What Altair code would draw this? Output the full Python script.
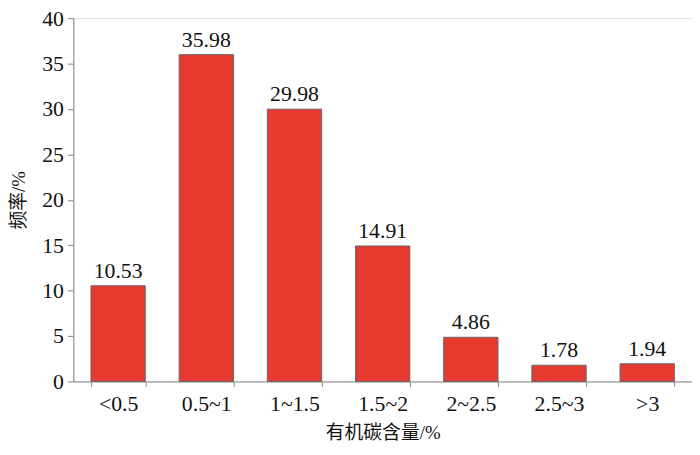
import altair as alt
import pandas as pd

categories = ["<0.5", "0.5~1", "1~1.5", "1.5~2", "2~2.5", "2.5~3", ">3"]
values = [10.53, 35.98, 29.98, 14.91, 4.86, 1.78, 1.94]
value_labels = ["10.53", "35.98", "29.98", "14.91", "4.86", "1.78", "1.94"]
y_ticks = [0, 5, 10, 15, 20, 25, 30, 35, 40]

df = pd.DataFrame({"cat": categories, "val": values, "lab": value_labels})

SERIF = "'Liberation Serif', 'Times New Roman', 'Noto Sans CJK SC', serif"
W, H = 625, 367

x_enc = alt.X(
    "cat:N",
    sort=categories,
    scale=alt.Scale(paddingInner=0.384, paddingOuter=0.2),
    axis=alt.Axis(
        title="有机碳含量/%",
        labelAngle=0,
        labelFont=SERIF,
        labelFontSize=22,
        labelColor="#111",
        labelPadding=7,
        tickBand="extent",
        tickSize=5,
        tickColor="#888",
        domainColor="#888",
        titleFont=SERIF,
        titleFontSize=19,
        titleFontWeight="normal",
        titleColor="#111",
        titleY=52,
        titleBaseline="middle",
    ),
)

y_enc = alt.Y(
    "val:Q",
    scale=alt.Scale(domain=[0, 40], nice=False),
    axis=alt.Axis(
        title="频率/%",
        values=y_ticks,
        grid=False,
        labelFont=SERIF,
        labelFontSize=22,
        labelColor="#111",
        labelPadding=4,
        tickSize=6,
        tickColor="#888",
        domainColor="#888",
        titleFont=SERIF,
        titleFontSize=19,
        titleFontWeight="normal",
        titleColor="#111",
        titleX=-55,
        titleY=H / 2,
        titleBaseline="middle",
    ),
)

bars = alt.Chart(df).mark_bar(
    color="#E63A30", stroke="#666666", strokeWidth=1
).encode(x=x_enc, y=y_enc)

texts = alt.Chart(df).mark_text(
    baseline="bottom", dy=-3, font=SERIF, fontSize=22, color="#111"
).encode(x=alt.X("cat:N", sort=categories), y="val:Q", text="lab:N")

chart = (
    alt.layer(bars, texts)
    .properties(
        width=W,
        height=H,
        autosize=alt.AutoSizeParams(type="none"),
        padding={"left": 66, "top": 8, "right": 0, "bottom": 64},
    )
    .configure_view(stroke=None)
    .configure(background="white")
)

chart.save("out.html", embed_options={"renderer": "svg", "actions": False})
